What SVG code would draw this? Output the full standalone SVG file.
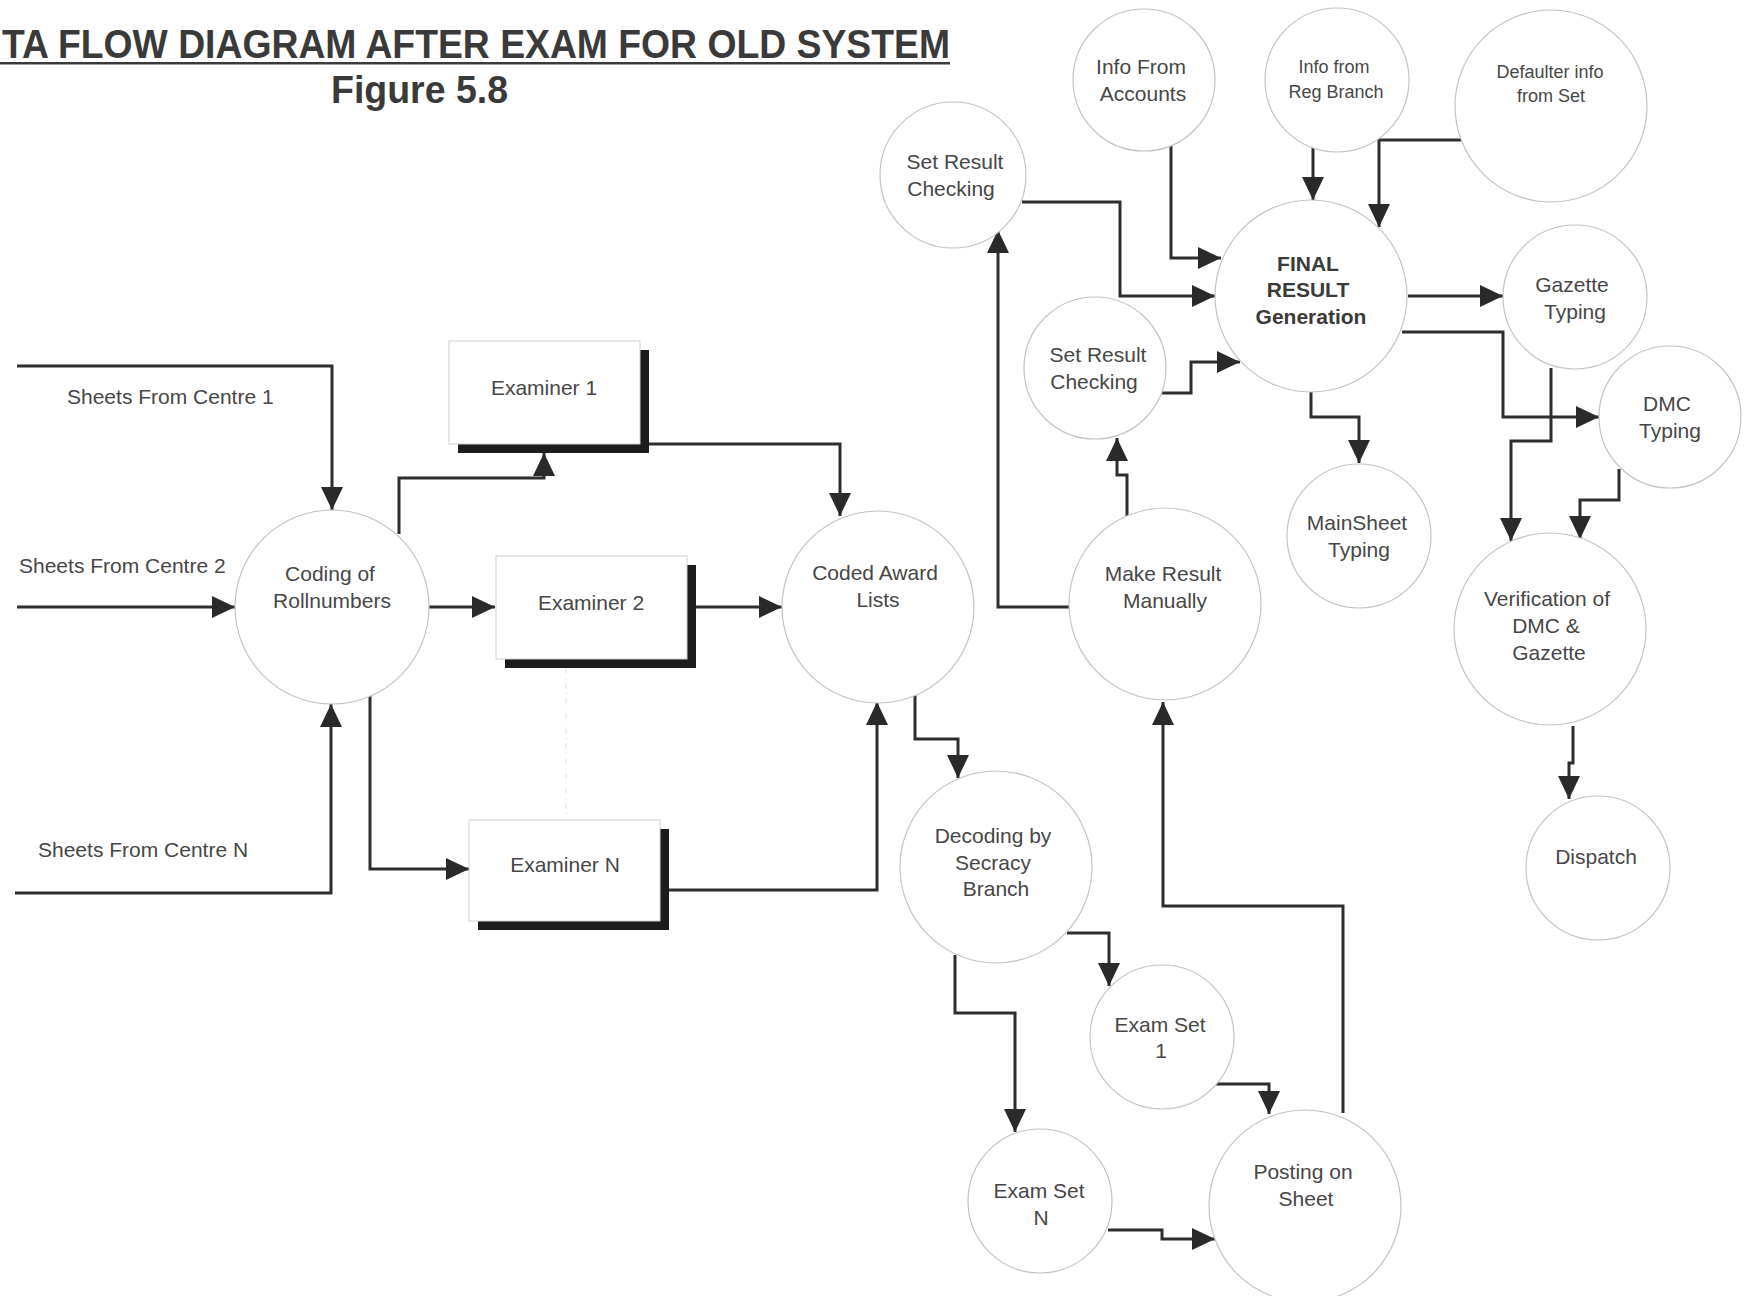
<svg xmlns="http://www.w3.org/2000/svg" width="1752" height="1296" viewBox="0 0 1752 1296">
  <defs>
    <marker id="arr" markerUnits="userSpaceOnUse" markerWidth="24" markerHeight="22" refX="23" refY="11" orient="auto">
      <path d="M0,0 L23,11 L0,22 z" fill="#2a2a2a"/>
    </marker>
    <style>
      .node circle { fill: #ffffff; stroke: #c4c4c4; stroke-width: 1.2; }
      .box rect.face { fill: #ffffff; stroke: #d0d0d0; stroke-width: 1; }
      .box rect.shadow { fill: #1c1c1c; }
      .lbl { font-family: "Liberation Sans", Arial, sans-serif; font-size: 21px; fill: #474747; text-anchor: middle; }
      .sm { font-size: 18px; }
      .bd { font-weight: bold; fill: #3a3a3a; }
      .flow { font-family: "Liberation Sans", Arial, sans-serif; font-size: 21px; fill: #474747; }
      .conn path { fill: none; stroke: #2e2e2e; stroke-width: 3; marker-end: url(#arr); }
      .title { font-family: "Liberation Sans", Arial, sans-serif; font-weight: bold; fill: #3a3a3a; }
    </style>
  </defs>

  <rect width="1752" height="1296" fill="#ffffff"/>

  <!-- heading -->
  <g id="heading">
    <text class="title" x="2" y="58" font-size="40" textLength="948" lengthAdjust="spacingAndGlyphs">TA FLOW DIAGRAM AFTER EXAM FOR OLD SYSTEM</text>
    <rect x="0" y="62" width="950" height="2.5" fill="#3a3a3a"/>
    <text class="title" x="331" y="103" font-size="38" textLength="177" lengthAdjust="spacingAndGlyphs">Figure 5.8</text>
  </g>

  <!-- faint guide between examiner boxes -->
  <line x1="566" y1="668" x2="566" y2="815" stroke="#e2e2e2" stroke-width="1" stroke-dasharray="6 4 1 4"/>

  <!-- connectors -->
  <g id="connectors" class="conn">
    <path d="M17,366 H332 V510"/>
    <path d="M17,607 H235"/>
    <path d="M15,893 H331 V704"/>
    <path d="M399,534 V478 H544 V453"/>
    <path d="M429,607 H495"/>
    <path d="M370,695 V869 H469"/>
    <path d="M649,444 H840 V516"/>
    <path d="M696,607 H782"/>
    <path d="M669,890 H877 V702"/>
    <path d="M915,695 V739 H958 V778"/>
    <path d="M1067,933 H1109 V986"/>
    <path d="M955,955 V1013 H1015 V1132"/>
    <path d="M1216,1084 H1269 V1114"/>
    <path d="M1108,1230 H1162 V1239 H1215"/>
    <path d="M1343,1113 V906 H1163 V702"/>
    <path d="M1069,607 H998 V230"/>
    <path d="M1127,516 V475 H1117 V438"/>
    <path d="M1022,202 H1120 V296 H1215"/>
    <path d="M1162,393 H1191 V362 H1240"/>
    <path d="M1171,146 V258 H1221"/>
    <path d="M1313,145 V200"/>
    <path d="M1461,140 H1379 V227"/>
    <path d="M1408,296 H1503"/>
    <path d="M1402,332 H1503 V417 H1599"/>
    <path d="M1311,392 V417 H1359 V463"/>
    <path d="M1551,368 V441 H1511 V541"/>
    <path d="M1619,469 V500 H1580 V539"/>
    <path d="M1573,726 V763 H1569 V799"/>
  </g>

  <!-- flow labels -->
  <g id="flow-labels">
    <text class="flow" x="67" y="404">Sheets From Centre 1</text>
    <text class="flow" x="19" y="573">Sheets From Centre 2</text>
    <text class="flow" x="38" y="857">Sheets From Centre N</text>
  </g>

  <!-- processes -->
  <g id="n-coding" class="node">
    <circle cx="332" cy="607" r="97"/>
    <text class="lbl" x="330" y="581">Coding of</text>
    <text class="lbl" x="332" y="608">Rollnumbers</text>
  </g>

  <g id="n-examiner1" class="box">
    <rect class="shadow" x="458" y="350" width="191" height="103"/>
    <rect class="face" x="449" y="341" width="191" height="103"/>
    <text class="lbl" x="544" y="395">Examiner 1</text>
  </g>
  <g id="n-examiner2" class="box">
    <rect class="shadow" x="505" y="565" width="191" height="103"/>
    <rect class="face" x="496" y="556" width="191" height="103"/>
    <text class="lbl" x="591" y="610">Examiner 2</text>
  </g>
  <g id="n-examinerN" class="box">
    <rect class="shadow" x="478" y="829" width="191" height="101"/>
    <rect class="face" x="469" y="820" width="191" height="101"/>
    <text class="lbl" x="565" y="872">Examiner N</text>
  </g>

  <g id="n-coded-award" class="node">
    <circle cx="878" cy="607" r="96"/>
    <text class="lbl" x="875" y="580">Coded Award</text>
    <text class="lbl" x="878" y="607">Lists</text>
  </g>

  <g id="n-decoding" class="node">
    <circle cx="996" cy="867" r="96"/>
    <text class="lbl" x="993" y="843">Decoding by</text>
    <text class="lbl" x="993" y="870">Secracy</text>
    <text class="lbl" x="996" y="896">Branch</text>
  </g>

  <g id="n-examset1" class="node">
    <circle cx="1162" cy="1037" r="72"/>
    <text class="lbl" x="1160" y="1032">Exam Set</text>
    <text class="lbl" x="1161" y="1058">1</text>
  </g>

  <g id="n-examsetN" class="node">
    <circle cx="1040" cy="1201" r="72"/>
    <text class="lbl" x="1039" y="1198">Exam Set</text>
    <text class="lbl" x="1041" y="1225">N</text>
  </g>

  <g id="n-posting" class="node">
    <circle cx="1305" cy="1206" r="96"/>
    <text class="lbl" x="1303" y="1179">Posting on</text>
    <text class="lbl" x="1306" y="1206">Sheet</text>
  </g>

  <g id="n-make-result" class="node">
    <circle cx="1165" cy="604" r="96"/>
    <text class="lbl" x="1163" y="581">Make Result</text>
    <text class="lbl" x="1165" y="608">Manually</text>
  </g>

  <g id="n-set-check-a" class="node">
    <circle cx="953" cy="175" r="73"/>
    <text class="lbl" x="955" y="169">Set Result</text>
    <text class="lbl" x="951" y="196">Checking</text>
  </g>

  <g id="n-set-check-b" class="node">
    <circle cx="1095" cy="368" r="71"/>
    <text class="lbl" x="1098" y="362">Set Result</text>
    <text class="lbl" x="1094" y="389">Checking</text>
  </g>

  <g id="n-info-accounts" class="node">
    <circle cx="1144" cy="80" r="71"/>
    <text class="lbl" x="1141" y="74">Info From</text>
    <text class="lbl" x="1143" y="101">Accounts</text>
  </g>

  <g id="n-info-reg" class="node">
    <circle cx="1337" cy="80" r="72"/>
    <text class="lbl sm" x="1334" y="73">Info from</text>
    <text class="lbl sm" x="1336" y="98">Reg Branch</text>
  </g>

  <g id="n-defaulter" class="node">
    <circle cx="1551" cy="106" r="96"/>
    <text class="lbl sm" x="1550" y="78">Defaulter info</text>
    <text class="lbl sm" x="1551" y="102">from Set</text>
  </g>

  <g id="n-final" class="node">
    <circle cx="1311" cy="296" r="96"/>
    <text class="lbl bd" x="1308" y="271">FINAL</text>
    <text class="lbl bd" x="1308" y="297">RESULT</text>
    <text class="lbl bd" x="1311" y="324">Generation</text>
  </g>

  <g id="n-gazette" class="node">
    <circle cx="1575" cy="297" r="72"/>
    <text class="lbl" x="1572" y="292">Gazette</text>
    <text class="lbl" x="1575" y="319">Typing</text>
  </g>

  <g id="n-dmc" class="node">
    <circle cx="1670" cy="417" r="71"/>
    <text class="lbl" x="1667" y="411">DMC</text>
    <text class="lbl" x="1670" y="438">Typing</text>
  </g>

  <g id="n-mainsheet" class="node">
    <circle cx="1359" cy="536" r="72"/>
    <text class="lbl" x="1357" y="530">MainSheet</text>
    <text class="lbl" x="1359" y="557">Typing</text>
  </g>

  <g id="n-verification" class="node">
    <circle cx="1550" cy="629" r="96"/>
    <text class="lbl" x="1547" y="606">Verification of</text>
    <text class="lbl" x="1546" y="633">DMC &amp;</text>
    <text class="lbl" x="1549" y="660">Gazette</text>
  </g>

  <g id="n-dispatch" class="node">
    <circle cx="1598" cy="868" r="72"/>
    <text class="lbl" x="1596" y="864">Dispatch</text>
  </g>
</svg>
